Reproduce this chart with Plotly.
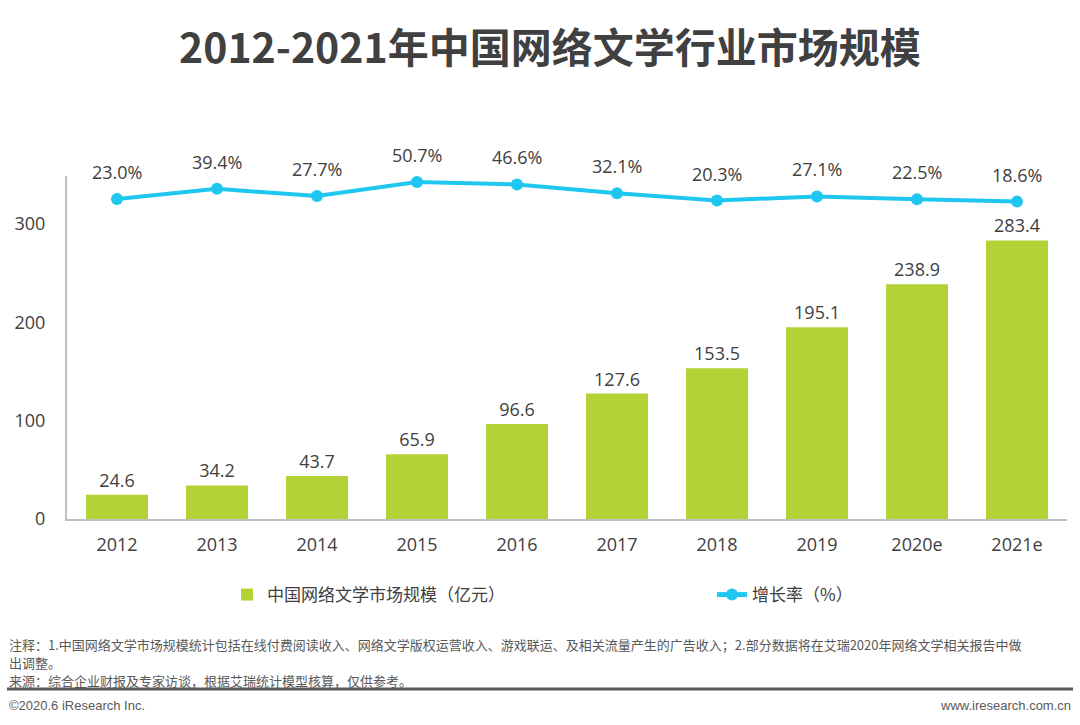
import plotly.graph_objects as go

years = ["2012", "2013", "2014", "2015", "2016", "2017", "2018", "2019", "2020e", "2021e"]
market = [24.6, 34.2, 43.7, 65.9, 96.6, 127.6, 153.5, 195.1, 238.9, 283.4]
growth = [23.0, 39.4, 27.7, 50.7, 46.6, 32.1, 20.3, 27.1, 22.5, 18.6]
y_ticks = [0, 100, 200, 300]

title = "2012-2021年中国网络文学行业市场规模"
note1 = "注释：1.中国网络文学市场规模统计包括在线付费阅读收入、网络文学版权运营收入、游戏联运、及相关流量产生的广告收入；2.部分数据将在艾瑞2020年网络文学相关报告中做"
note2 = "出调整。"
source = "来源：综合企业财报及专家访谈，根据艾瑞统计模型核算，仅供参考。"
copyright_txt = "©2020.6 iResearch Inc."
website = "www.iresearch.com.cn"

L, R, T, B = 67, 13, 176, 206
H = 725 - T - B
W = 1080 - L - R

def py(px):
    return (725 - B - px) / H

def px_x(px):
    return (px - L) / W

FONT = "Open Sans, Noto Sans CJK SC, sans-serif"
CJK = "Noto Sans CJK SC, sans-serif"
GREEN = "#B3D235"
CYAN = "#1FC7F0"
TXT = "#404040"

fig = go.Figure()
fig.add_trace(go.Bar(
    x=years, y=market, name="中国网络文学市场规模（亿元）",
    marker=dict(color=GREEN, line=dict(width=0)), width=0.62,
    text=[f"{v:.1f}" for v in market], textposition="outside",
    textfont=dict(size=18, color=TXT, family=FONT), cliponaxis=False,
))
fig.add_trace(go.Scatter(
    x=years, y=growth, name="增长率（%）", yaxis="y2",
    mode="lines+markers",
    line=dict(color=CYAN, width=4), marker=dict(color=CYAN, size=12),
    cliponaxis=False,
))
for i, g in enumerate(growth):
    fig.add_annotation(x=i, y=g, xref="x", yref="y2", text=f"{g:.1f}%", showarrow=False,
                       yshift=27, font=dict(size=18, color=TXT, family=FONT))

fig.update_layout(
    width=1080, height=725,
    margin=dict(l=L, r=R, t=T, b=B, autoexpand=False),
    paper_bgcolor="white", plot_bgcolor="white",
    showlegend=True,
    legend=dict(orientation="h", xref="container", yref="container", x=227/1080, y=1 - 595/725,
                xanchor="left", yanchor="middle",
                font=dict(size=17, color=TXT, family=CJK), entrywidth=440, entrywidthmode="pixels",
                itemsizing="constant", tracegroupgap=0),
    xaxis=dict(type="category", categoryorder="array", categoryarray=years,
               range=[-0.5, len(years) - 0.5],
               showline=True, linecolor="#BFBFBF", linewidth=2, showgrid=False,
               tickfont=dict(size=18, color=TXT, family=FONT),
               ticks="outside", ticklen=8, tickcolor="rgba(0,0,0,0)"),
    yaxis=dict(range=[0, 349], showline=True, linecolor="#BFBFBF", linewidth=2, showgrid=False,
               zeroline=False, tickvals=y_ticks, tickfont=dict(size=18, color=TXT, family=FONT),
               ticks="outside", ticklen=16, tickcolor="rgba(0,0,0,0)"),
    yaxis2=dict(range=[-498, 60.3], overlaying="y", side="right", visible=False, showgrid=False),
    bargap=0.38,
)

fig.add_annotation(text=f"<b>{title}</b>", xref="paper", yref="paper", x=px_x(550), y=py(45),
                   xanchor="center", yanchor="middle", showarrow=False,
                   font=dict(size=41, color="#404040", family=CJK))

for txt, ypx in [(note1, 644), (note2, 662), (source, 680)]:
    fig.add_annotation(text=txt, xref="paper", yref="paper", x=px_x(7), y=py(ypx),
                       xanchor="left", yanchor="middle", showarrow=False,
                       font=dict(size=13, color="#595959", family=CJK))
fig.add_annotation(text=copyright_txt, xref="paper", yref="paper", x=px_x(7), y=py(705),
                   xanchor="left", yanchor="middle", showarrow=False,
                   font=dict(size=13, color="#595959", family="Liberation Sans Narrow, Arial Narrow, sans-serif"))
fig.add_annotation(text=website, xref="paper", yref="paper", x=px_x(1073), y=py(705),
                   xanchor="right", yanchor="middle", showarrow=False,
                   font=dict(size=13, color="#595959", family="Liberation Sans Narrow, Arial Narrow, sans-serif"))
fig.add_shape(type="line", xref="paper", yref="paper", x0=px_x(7), x1=px_x(1073),
              y0=py(689), y1=py(689), line=dict(color="#595959", width=3))

fig.write_html("out.html", config={"displayModeBar": False},
               post_script="document.body.style.margin='0';document.body.style.overflow='hidden';")
